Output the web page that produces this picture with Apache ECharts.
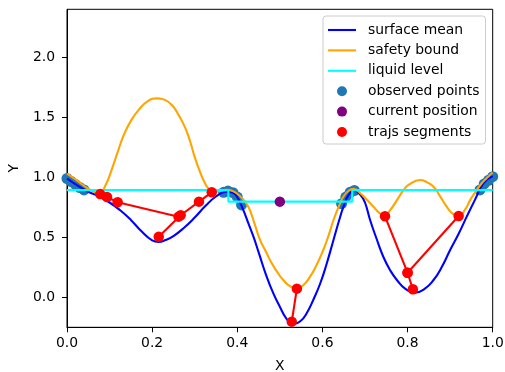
<!DOCTYPE html>
<html>
<head>
<meta charset="utf-8">
<script src="https://cdn.jsdelivr.net/npm/echarts@6/dist/echarts.min.js"></script>
<style>
  html, body { margin: 0; padding: 0; background: #ffffff; }
  #chart { width: 505px; height: 372px; }
</style>
</head>
<body>
<div id="chart"></div>
<script>
// Surface mean estimate, sampled along x
const surfaceMean = [
  [0.000, 0.99], [0.025, 0.93], [0.050, 0.88], [0.075, 0.84], [0.100, 0.79],
  [0.125, 0.725], [0.150, 0.645], [0.175, 0.55], [0.200, 0.475], [0.215, 0.462],
  [0.230, 0.475], [0.250, 0.51], [0.275, 0.58], [0.300, 0.665], [0.325, 0.76],
  [0.350, 0.84], [0.375, 0.88], [0.390, 0.87], [0.400, 0.835], [0.414, 0.728],
  [0.425, 0.626], [0.438, 0.505], [0.450, 0.376], [0.469, 0.172], [0.485, 0.03],
  [0.500, -0.078], [0.515, -0.175], [0.532, -0.225], [0.548, -0.2], [0.563, -0.133],
  [0.580, -0.01], [0.595, 0.117], [0.610, 0.28], [0.626, 0.478], [0.640, 0.65],
  [0.650, 0.76], [0.662, 0.855], [0.675, 0.89], [0.690, 0.85], [0.700, 0.79],
  [0.712, 0.644], [0.727, 0.49], [0.743, 0.338], [0.760, 0.22], [0.775, 0.144],
  [0.795, 0.07], [0.818, 0.039], [0.840, 0.07], [0.861, 0.144], [0.880, 0.25],
  [0.900, 0.394], [0.920, 0.53], [0.939, 0.672], [0.958, 0.81], [0.978, 0.95],
  [1.000, 1.01]
];

// Upper safety bound
const safetyBound = [
  [0.000, 1.03], [0.025, 0.97], [0.050, 0.905], [0.075, 0.867], [0.090, 0.93],
  [0.106, 1.075], [0.120, 1.22], [0.133, 1.35], [0.150, 1.47], [0.168, 1.56],
  [0.190, 1.635], [0.212, 1.658], [0.230, 1.645], [0.247, 1.60], [0.262, 1.52],
  [0.278, 1.41], [0.290, 1.29], [0.300, 1.17], [0.313, 1.04], [0.325, 0.945],
  [0.336, 0.895], [0.350, 0.882], [0.375, 0.895], [0.390, 0.885], [0.410, 0.83],
  [0.426, 0.755], [0.440, 0.62], [0.4535, 0.478], [0.468, 0.375], [0.481, 0.283],
  [0.495, 0.205], [0.508, 0.144], [0.525, 0.09], [0.540, 0.075], [0.555, 0.10],
  [0.571, 0.172], [0.585, 0.26], [0.602, 0.394], [0.615, 0.52], [0.626, 0.644],
  [0.640, 0.77], [0.649, 0.838], [0.662, 0.89], [0.673, 0.905], [0.689, 0.867],
  [0.705, 0.81], [0.720, 0.755], [0.735, 0.70], [0.747, 0.686], [0.760, 0.73],
  [0.775, 0.81], [0.790, 0.89], [0.802, 0.936], [0.830, 0.978], [0.845, 0.96],
  [0.861, 0.922], [0.875, 0.85], [0.892, 0.755], [0.905, 0.70], [0.920, 0.678],
  [0.935, 0.73], [0.947, 0.81], [0.960, 0.88], [0.971, 0.936], [0.985, 0.99],
  [1.000, 1.04]
];

// Liquid level (step profile)
const liquidLevel = [
  [0.000, 0.893], [0.379, 0.893], [0.379, 0.797], [0.670, 0.797], [0.670, 0.893], [1.000, 0.893]
];

// Observed samples along the surface
const observedPoints = [
  [0.000, 0.99], [0.010, 0.965], [0.020, 0.94], [0.030, 0.915], [0.040, 0.895],
  [0.368, 0.875], [0.378, 0.885], [0.390, 0.872], [0.400, 0.835], [0.410, 0.77],
  [0.645, 0.78], [0.655, 0.835], [0.665, 0.875], [0.675, 0.89],
  [0.970, 0.895], [0.980, 0.945], [0.990, 0.975], [1.000, 1.005]
];

// Current position
const currentPosition = [[0.500, 0.797]];

// Trajectory segments
const trajSegments = [
  [[0.078, 0.86], [0.094, 0.836], [0.119, 0.792], [0.262, 0.672]],
  [[0.2155, 0.505], [0.267, 0.684], [0.310, 0.797], [0.340, 0.875]],
  [[0.528, -0.203], [0.540, 0.072]],
  [[0.747, 0.675], [0.800, 0.205], [0.8125, 0.067]],
  [[0.800, 0.205], [0.920, 0.678]]
];

const xTicks = [0, 0.2, 0.4, 0.6, 0.8, 1.0];
const yTicks = [0, 0.5, 1.0, 1.5, 2.0];

const FONT = 'DejaVu Sans';
const trajPoints = [].concat(...trajSegments);
const LINE_ICON = 'path://M0,0L28,0L28,2.1L0,2.1Z';

const chart = echarts.init(document.getElementById('chart'), null, { renderer: 'canvas' });

const series = [
  {
    name: 'observed points', type: 'scatter', data: observedPoints,
    symbolSize: 11, itemStyle: { color: '#1f77b4', opacity: 1 }, z: 1
  },
  {
    name: 'surface mean', type: 'line', data: surfaceMean, smooth: 0.5,
    symbol: 'none', lineStyle: { color: '#0000ff', width: 2.1 }, itemStyle: { color: '#0000ff' }, z: 2
  },
  {
    name: 'safety bound', type: 'line', data: safetyBound, smooth: 0.5,
    symbol: 'none', lineStyle: { color: '#ffa500', width: 2.1 }, itemStyle: { color: '#ffa500' }, z: 3
  },
  {
    name: 'liquid level', type: 'line', data: liquidLevel,
    symbol: 'none', lineStyle: { color: '#00ffff', width: 2.1 }, itemStyle: { color: '#00ffff' }, z: 4
  }
];

trajSegments.forEach((seg, i) => {
  series.push({
    name: 'traj' + i, type: 'line', data: seg, symbol: 'none',
    lineStyle: { color: '#ff0000', width: 2.1 }, z: 5, silent: true
  });
});

series.push({
  name: 'trajs segments', type: 'scatter', data: trajPoints,
  symbolSize: 10.5, itemStyle: { color: '#ff0000', opacity: 1 }, z: 6
});
series.push({
  name: 'current position', type: 'scatter', data: currentPosition,
  symbolSize: 10.5, itemStyle: { color: '#800080', opacity: 1 }, z: 7
});

chart.setOption({
  animation: false,
  backgroundColor: '#ffffff',
  grid: {
    left: 67, right: 12.3, top: 9.3, bottom: 44.7,
    outerBoundsMode: 'none', containLabel: false,
    show: true, borderColor: '#000000', borderWidth: 1, backgroundColor: 'transparent'
  },
  legend: {
    orient: 'vertical', left: 323, top: 16,
    padding: [7, 6, 5, 5],
    backgroundColor: 'rgba(255,255,255,0.8)',
    borderColor: '#cccccc', borderWidth: 1, borderRadius: 3,
    itemWidth: 28, itemHeight: 10, itemGap: 6.4,
    textStyle: { fontFamily: FONT, fontSize: 13.9, color: '#000000', padding: [0, 0, 0, 7] },
    data: [
      { name: 'surface mean', icon: LINE_ICON },
      { name: 'safety bound', icon: LINE_ICON },
      { name: 'liquid level', icon: LINE_ICON },
      { name: 'observed points', icon: 'circle' },
      { name: 'current position', icon: 'circle' },
      { name: 'trajs segments', icon: 'circle' }
    ]
  },
  xAxis: {
    type: 'value', min: 0, max: 1, interval: 0.2,
    name: 'X', nameLocation: 'middle', nameGap: 32,
    nameTextStyle: { fontFamily: FONT, fontSize: 13.9, color: '#000000' },
    axisLine: { show: true, onZero: false, lineStyle: { color: '#000000', width: 1 } },
    axisTick: { show: true, inside: false, length: 5, lineStyle: { color: '#000000' } },
    axisLabel: {
      fontFamily: FONT, fontSize: 13.9, color: '#000000', margin: 9,
      formatter: v => v.toFixed(1), showMinLabel: true, showMaxLabel: true
    },
    splitLine: { show: false }
  },
  yAxis: {
    type: 'value', min: -0.25, max: 2.4,
    name: 'Y', nameLocation: 'middle', nameGap: 46,
    nameTextStyle: { fontFamily: FONT, fontSize: 13.9, color: '#000000' },
    axisLine: { show: true, onZero: false, lineStyle: { color: '#000000', width: 1 } },
    axisTick: { show: true, inside: false, length: 5, customValues: yTicks, lineStyle: { color: '#000000' } },
    axisLabel: {
      fontFamily: FONT, fontSize: 13.9, color: '#000000', margin: 12,
      customValues: yTicks, formatter: v => v.toFixed(1)
    },
    splitLine: { show: false }
  },
  series: series
});
</script>
</body>
</html>
